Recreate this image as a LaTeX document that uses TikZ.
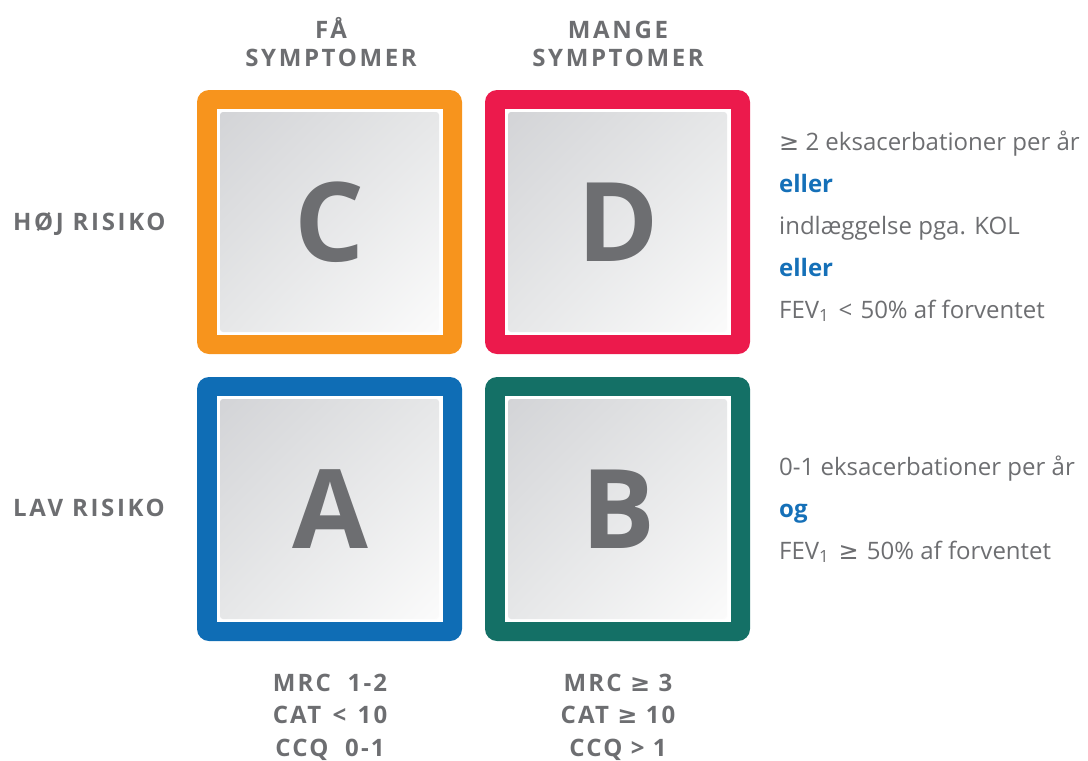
\documentclass[tikz,border=0pt]{standalone}
\usepackage{fontspec}
\usetikzlibrary{shadings}
\setmainfont{Open Sans}
\newfontfamily\symf{DejaVu Sans}
\definecolor{cOrange}{HTML}{F7941D}
\definecolor{cRed}{HTML}{EC1A4C}
\definecolor{cBlue}{HTML}{0F6DB5}
\definecolor{cTeal}{HTML}{147066}
\definecolor{txtgray}{HTML}{6D6E71}
\definecolor{txtblue}{HTML}{1570B8}
\definecolor{gA}{HTML}{D3D4D7}
\definecolor{gM}{HTML}{E6E7E8}
\definecolor{gB}{HTML}{FBFBFB}
\newcommand\geqsym{{\symf\char"2265}}
\newcommand\riskbox[5]{%
  \fill[#4, rounded corners=12pt] (#2,#3) rectangle ++(265,264);
  \fill[white] (#2+20,#3+19) rectangle ++(226,226);
  \shade[upper left=gA, upper right=gM, lower left=gM, lower right=gB, rounded corners=3pt] (#2+23,#3+22) rectangle ++(219,220);
  \node[bigletter] (#1) at (#2+133,#3+132) {#5};
}
\tikzset{
  bigletter/.style={text=txtgray, font=\fontsize{110}{110}\selectfont\bfseries, inner sep=0pt},
  hdr/.style={text=txtgray, font=\fontsize{24}{24}\selectfont\bfseries\addfontfeatures{LetterSpace=11}, inner sep=0pt, anchor=base},
  desc/.style={text=txtgray, font=\fontsize{24}{24}\selectfont, inner sep=0pt, anchor=base west},
  conj/.style={text=txtblue, font=\fontsize{24}{24}\selectfont\bfseries, inner sep=0pt, anchor=base west},
  crit/.style={text=txtgray, font=\fontsize{24}{24}\selectfont\bfseries\addfontfeatures{LetterSpace=9}, inner sep=0pt, anchor=base},
}
\begin{document}
\begin{tikzpicture}[x=1pt,y=-1pt]
\useasboundingbox (0,0) rectangle (1088,761);
\riskbox{C}{197}{90}{cOrange}{C}
\riskbox{D}{485}{90}{cRed}{D}
\riskbox{A}{197}{377}{cBlue}{A}
\riskbox{B}{485}{377}{cTeal}{B}
% column headers
\node[hdr] (h1a) at (331,38) {FÅ};
\node[hdr] (h1b) at (331,66) {SYMPTOMER};
\node[hdr] (h2a) at (618,38) {MANGE};
\node[hdr] (h2b) at (618,66) {SYMPTOMER};
% row labels
\node[hdr, anchor=base west] (r1) at (13,230) {HØJ RISIKO};
\node[hdr, anchor=base west] (r2) at (13,516) {LAV RISIKO};
% right descriptions
\node[desc] (d1) at (779,150) {\geqsym{} 2 eksacerbationer per år};
\node[conj] (d2) at (779,192) {eller};
\node[desc] (d3) at (779,234) {indlæggelse pga. KOL};
\node[conj] (d4) at (779,276) {eller};
\node[desc] (d5) at (779,318) {FEV\textsubscript{1}\hspace{3pt} < \hspace{2pt}50\% af forventet};
\node[desc] (e1) at (779,475) {0-1 eksacerbationer per år};
\node[conj] (e2) at (779,517) {og};
\node[desc] (e3) at (779,559) {FEV\textsubscript{1}\hspace{3pt} \geqsym{} \hspace{2pt}50\% af forventet};
% bottom criteria
\node[crit] (m1) at (330,691) {MRC\ \ 1-2};
\node[crit] (m2) at (330,723) {CAT\hspace{3pt} < \hspace{3pt}10};
\node[crit] (m3) at (330,756) {CCQ\ \ 0-1};
\node[crit] (n1) at (618,691) {MRC \geqsym{} 3};
\node[crit] (n2) at (618,723) {CAT \geqsym{} 10};
\node[crit] (n3) at (618,756) {CCQ > 1};
\end{tikzpicture}
\end{document}
